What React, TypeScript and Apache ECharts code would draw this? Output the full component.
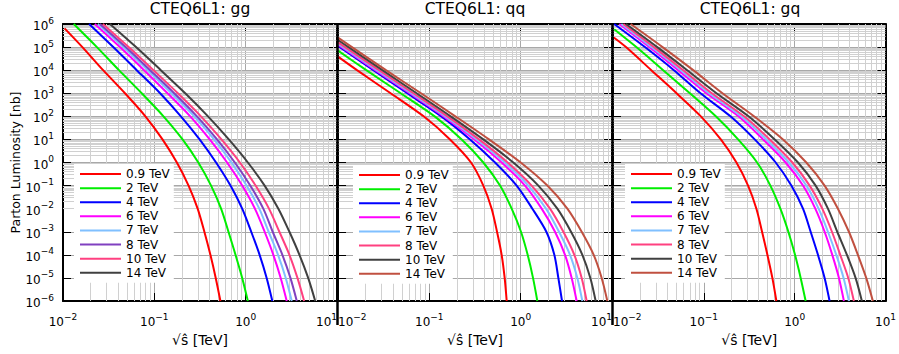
import React, { useEffect, useRef } from 'react';
import * as echarts from 'echarts';

// ---------- data ----------
const panelKeys = ['gg', 'qq', 'gq'];
const panelTitles = ['CTEQ6L1: gg', 'CTEQ6L1: qq', 'CTEQ6L1: gq'];
const energies = ['0.9 TeV', '2 TeV', '4 TeV', '6 TeV', '7 TeV', '8 TeV', '10 TeV', '14 TeV'];
const ggColors = ['#ff0000', '#00ee00', '#0000ff', '#ff00ff', '#80c0ff', '#8040c0', '#ff4080', '#404040'];
const qqColors = ['#ff0000', '#00ee00', '#0000ff', '#ff00ff', '#80c0ff', '#ff4080', '#404040', '#c05040'];
const gqColors = ['#ff0000', '#00ee00', '#0000ff', '#ff00ff', '#80c0ff', '#ff4080', '#404040', '#c05040'];

const xMin = 0.01;
const xMax = 10;
const yMin = 1e-6;
const yMax = 1e6;
const minorMultipliers = [2, 3, 4, 5, 6, 7, 8, 9];
const xDecades = [0.01, 0.1, 1];
const yDecades = [1e-6, 1e-5, 1e-4, 1e-3, 1e-2, 1e-1, 1, 1e1, 1e2, 1e3, 1e4, 1e5];

// gg luminosity curves: [sqrt(s-hat) TeV, luminosity nb]
const gg09 = [[0.0104, 6.5e5], [0.0163, 1e5], [0.0275, 1e4], [0.0477, 1e3], [0.0798, 1e2], [0.1228, 1e1], [0.1765, 1], [0.237, 1e-1], [0.298, 1e-2], [0.353, 1e-3], [0.411, 1e-4], [0.47, 1e-5], [0.529, 1e-6]];
const gg2 = [[0.0131, 1e6], [0.0235, 1e5], [0.041, 1e4], [0.0727, 1e3], [0.1259, 1e2], [0.2037, 1e1], [0.303, 1], [0.418, 1e-1], [0.538, 1e-2], [0.648, 1e-3], [0.774, 1e-4], [0.916, 1e-5], [1.057, 1e-6]];
const gg4 = [[0.0193, 1e6], [0.0355, 1e5], [0.0641, 1e4], [0.1157, 1e3], [0.1953, 1e2], [0.313, 1e1], [0.474, 1], [0.682, 1e-1], [0.916, 1e-2], [1.15, 1e-3], [1.421, 1e-4], [1.697, 1e-5], [1.958, 1e-6]];
const gg6 = [[0.0223, 1e6], [0.042, 1e5], [0.0772, 1e4], [0.1394, 1e3], [0.247, 1e2], [0.404, 1e1], [0.626, 1], [0.916, 1e-1], [1.262, 1e-2], [1.613, 1e-3], [2.009, 1e-4], [2.418, 1e-5], [2.816, 1e-6]];
const gg7 = [[0.0241, 1e6], [0.0457, 1e5], [0.0847, 1e4], [0.1542, 1e3], [0.274, 1e2], [0.451, 1e1], [0.699, 1], [1.022, 1e-1], [1.409, 1e-2], [1.784, 1e-3], [2.261, 1e-4], [2.746, 1e-5], [3.196, 1e-6]];
const gg8 = [[0.0253, 1e6], [0.0485, 1e5], [0.0898, 1e4], [0.165, 1e3], [0.293, 1e2], [0.486, 1e1], [0.761, 1], [1.122, 1e-1], [1.559, 1e-2], [1.975, 1e-3], [2.523, 1e-4], [3.09, 1e-5], [3.628, 1e-6]];
const gg10 = [[0.0273, 1e6], [0.0523, 1e5], [0.0978, 1e4], [0.181, 1e3], [0.324, 1e2], [0.543, 1e1], [0.864, 1], [1.284, 1e-1], [1.8, 1e-2], [2.338, 1e-3], [3.012, 1e-4], [3.689, 1e-5], [4.369, 1e-6]];
const gg14 = [[0.0326, 1e6], [0.063, 1e5], [0.1177, 1e4], [0.218, 1e3], [0.387, 1e2], [0.654, 1e1], [1.057, 1], [1.613, 1e-1], [2.28, 1e-2], [3.012, 1e-3], [3.881, 1e-4], [4.834, 1e-5], [5.772, 1e-6]];

// qq luminosity curves
const qq09 = [[0.01, 3.85e4], [0.01614, 1e4], [0.0377, 1e3], [0.0867, 1e2], [0.1684, 1e1], [0.286, 1], [0.39, 1e-1], [0.481, 1e-2], [0.551, 1e-3], [0.619, 1e-4], [0.668, 1e-5], [0.703, 1e-6]];
const qq2 = [[0.01, 7.0e4], [0.0204, 1e4], [0.0486, 1e3], [0.1144, 1e2], [0.226, 1e1], [0.39, 1], [0.594, 1e-1], [0.797, 1e-2], [1.008, 1e-3], [1.193, 1e-4], [1.365, 1e-5], [1.522, 1e-6]];
const qq4 = [[0.01, 1.11e5], [0.0244, 1e4], [0.0574, 1e3], [0.1353, 1e2], [0.279, 1e1], [0.524, 1], [0.904, 1e-1], [1.342, 1e-2], [1.91, 1e-3], [2.336, 1e-4], [2.585, 1e-5], [2.836, 1e-6]];
const qq6 = [[0.01, 1.27e5], [0.0256, 1e4], [0.0609, 1e3], [0.1435, 1e2], [0.311, 1e1], [0.619, 1], [1.115, 1e-1], [1.698, 1e-2], [2.376, 1e-3], [3.058, 1e-4], [3.617, 1e-5], [4.104, 1e-6]];
const qq7 = [[0.01, 1.41e5], [0.0267, 1e4], [0.0635, 1e3], [0.1497, 1e2], [0.33, 1e1], [0.674, 1], [1.213, 1e-1], [1.894, 1e-2], [2.628, 1e-3], [3.468, 1e-4], [4.173, 1e-5], [4.734, 1e-6]];
const qq8 = [[0.01, 1.61e5], [0.0281, 1e4], [0.0668, 1e3], [0.1574, 1e2], [0.35, 1e1], [0.72, 1], [1.319, 1e-1], [2.095, 1e-2], [2.933, 1e-3], [3.869, 1e-4], [4.655, 1e-5], [5.28, 1e-6]];
const qq10 = [[0.01, 2.03e5], [0.0306, 1e4], [0.0727, 1e3], [0.1712, 1e2], [0.39, 1e1], [0.831, 1], [1.561, 1e-1], [2.52, 1e-2], [3.557, 1e-3], [4.734, 1e-4], [5.792, 1e-5], [6.624, 1e-6]];
const qq14 = [[0.01, 2.56e5], [0.0335, 1e4], [0.0811, 1e3], [0.1926, 1e2], [0.45, 1e1], [1.0, 1], [1.959, 1e-1], [3.243, 1e-2], [4.655, 1e-3], [6.301, 1e-4], [7.706, 1e-5], [8.89, 1e-6]];

// gq luminosity curves
const gq09 = [[0.0102, 2.6e5], [0.01389, 1e5], [0.0264, 1e4], [0.0501, 1e3], [0.0927, 1e2], [0.1538, 1e1], [0.2286, 1], [0.307, 1e-1], [0.379, 1e-2], [0.4375, 1e-3], [0.501, 1e-4], [0.568, 1e-5], [0.629, 1e-6]];
const gq2 = [[0.0103, 5.9e5], [0.01805, 1e5], [0.0357, 1e4], [0.0702, 1e3], [0.1355, 1e2], [0.2384, 1e1], [0.386, 1], [0.54, 1e-1], [0.696, 1e-2], [0.852, 1e-3], [1.009, 1e-4], [1.164, 1e-5], [1.321, 1e-6]];
const gq4 = [[0.0103, 1e6], [0.02247, 1e5], [0.0468, 1e4], [0.0919, 1e3], [0.1963, 1e2], [0.363, 1e1], [0.618, 1], [0.919, 1e-1], [1.235, 1e-2], [1.499, 1e-3], [1.805, 1e-4], [2.136, 1e-5], [2.424, 1e-6]];
const gq6 = [[0.01174, 1e6], [0.02508, 1e5], [0.0522, 1e4], [0.107, 1e3], [0.2404, 1e2], [0.449, 1e1], [0.796, 1], [1.235, 1e-1], [1.687, 1e-2], [2.136, 1e-3], [2.594, 1e-4], [3.071, 1e-5], [3.484, 1e-6]];
const gq7 = [[0.01235, 1e6], [0.0266, 1e5], [0.0559, 1e4], [0.1144, 1e3], [0.2594, 1e2], [0.488, 1e1], [0.866, 1], [1.344, 1e-1], [1.835, 1e-2], [2.324, 1e-3], [2.871, 1e-4], [3.455, 1e-5], [3.955, 1e-6]];
const gq8 = [[0.01299, 1e6], [0.0282, 1e5], [0.0593, 1e4], [0.1224, 1e3], [0.2774, 1e2], [0.531, 1e1], [0.943, 1], [1.462, 1e-1], [2.014, 1e-2], [2.573, 1e-3], [3.175, 1e-4], [3.888, 1e-5], [4.487, 1e-6]];
const gq10 = [[0.01389, 1e6], [0.0307, 1e5], [0.0656, 1e4], [0.1378, 1e3], [0.31, 1e2], [0.603, 1e1], [1.088, 1], [1.701, 1e-1], [2.324, 1e-2], [2.944, 1e-3], [3.76, 1e-4], [4.681, 1e-5], [5.495, 1e-6]];
const gq14 = [[0.01564, 1e6], [0.0351, 1e5], [0.0764, 1e4], [0.1604, 1e3], [0.357, 1e2], [0.744, 1e1], [1.344, 1], [2.136, 1e-1], [2.994, 1e-2], [3.955, 1e-3], [4.966, 1e-4], [6.132, 1e-5], [7.258, 1e-6]];

const ggCurves = [gg09, gg2, gg4, gg6, gg7, gg8, gg10, gg14];
const qqCurves = [qq09, qq2, qq4, qq6, qq7, qq8, qq10, qq14];
const gqCurves = [gq09, gq2, gq4, gq6, gq7, gq8, gq10, gq14];

// ---------- layout ----------
const FONT = 'DejaVu Sans';
const gridLefts = [63, 338, 613];
const gridWidth = 274;
const gridTop = 24;
const gridHeight = 277;
const legendPos = [[74, 164], [353, 165], [625, 164]];

const powLabel = (v: number) => {
  const e = Math.round(Math.log10(v));
  const es = e < 0 ? '\u2212' + String(-e) : String(e);
  return `{b|10}{s|${es}}`;
};
const richStyle = {
  b: { fontSize: 12, fontFamily: FONT, color: '#000', lineHeight: 16, verticalAlign: 'bottom' },
  s: { fontSize: 9, fontFamily: FONT, color: '#000', lineHeight: 8, verticalAlign: 'top' },
};

function buildOption() {
  const panels = [
    { key: panelKeys[0], curves: ggCurves, colors: ggColors },
    { key: panelKeys[1], curves: qqCurves, colors: qqColors },
    { key: panelKeys[2], curves: gqCurves, colors: gqColors },
  ];
  const minorX = xDecades.flatMap((d) => minorMultipliers.map((m) => ({ xAxis: m * d })));
  const minorY = yDecades.flatMap((d) => minorMultipliers.map((m) => ({ yAxis: m * d })));

  const grid: any[] = [];
  const xAxis: any[] = [];
  const yAxis: any[] = [];
  const series: any[] = [];
  const legend: any[] = [];
  const title: any[] = [];

  panels.forEach((p, i) => {
    grid.push({ left: gridLefts[i], top: gridTop, width: gridWidth, height: gridHeight, containLabel: false });
    title.push({
      text: panelTitles[i],
      left: gridLefts[i] + gridWidth / 2,
      top: 1,
      textAlign: 'center',
      padding: 0,
      textStyle: { fontSize: 15.5, fontWeight: 'normal', color: '#000', fontFamily: FONT },
    });
    const axisLine = { show: true, onZero: false, lineStyle: { color: '#000', width: 2 } };
    const axisTick = { show: true, inside: true, length: 8, lineStyle: { color: '#000', width: 1 } };
    xAxis.push({
      type: 'log', logBase: 10, gridIndex: i, position: 'bottom', min: xMin, max: xMax, interval: 1, splitNumber: 3,
      axisLine, axisTick,
      axisLabel: {
        show: true, margin: 11, formatter: powLabel, rich: richStyle,
        alignMinLabel: i === 0 ? 'center' : 'left',
        alignMaxLabel: i === 2 ? 'center' : 'right',
        showMinLabel: true, showMaxLabel: true,
      },
      splitLine: { show: true, lineStyle: { color: '#a8a8a8', width: 1 } },
      name: '\u221A\u015D [TeV]', nameLocation: 'middle', nameGap: 28,
      nameTextStyle: { fontSize: 14, fontFamily: FONT, color: '#000' },
    });
    xAxis.push({
      type: 'log', logBase: 10, gridIndex: i, position: 'top', min: xMin, max: xMax, interval: 1, splitNumber: 3,
      axisLine, axisTick, axisLabel: { show: false }, splitLine: { show: false },
    });
    yAxis.push({
      type: 'log', logBase: 10, gridIndex: i, position: 'left', min: yMin, max: yMax, interval: 1, splitNumber: 12,
      axisLine, axisTick,
      axisLabel: { show: i === 0, margin: 9, formatter: powLabel, rich: richStyle, showMinLabel: true, showMaxLabel: true },
      splitLine: { show: true, lineStyle: { color: '#a8a8a8', width: 1 } },
      name: i === 0 ? 'Parton Luminosity [nb]' : '', nameLocation: 'middle', nameGap: 41,
      nameTextStyle: { fontSize: 12.5, fontFamily: FONT, color: '#000' },
    });
    yAxis.push({
      type: 'log', logBase: 10, gridIndex: i, position: 'right', min: yMin, max: yMax, interval: 1, splitNumber: 12,
      axisLine, axisTick, axisLabel: { show: false }, splitLine: { show: false },
    });

    const names = energies.map((e) => `${p.key}|${e}`);
    p.curves.forEach((curve, j) => {
      const s: any = {
        type: 'line',
        name: names[j],
        xAxisIndex: i * 2,
        yAxisIndex: i * 2,
        data: curve,
        showSymbol: false,
        symbol: 'none',
        smooth: 0.3,
        clip: true,
        z: 3,
        lineStyle: { width: 2, color: p.colors[j] },
        itemStyle: { color: p.colors[j] },
        emphasis: { disabled: true },
      };
      if (j === 0) {
        s.markLine = {
          silent: true,
          symbol: ['none', 'none'],
          label: { show: false },
          lineStyle: { type: 'solid', color: '#d0d0d0', width: 1 },
          emphasis: { disabled: true },
          z: 1,
          animation: false,
          data: [...minorX, ...minorY],
        };
      }
      series.push(s);
    });

    legend.push({
      orient: 'vertical',
      left: legendPos[i][0],
      top: legendPos[i][1],
      data: names.map((n) => ({ name: n, icon: 'rect' })),
      formatter: (n: string) => n.split('|')[1],
      itemWidth: 41,
      itemHeight: 2,
      itemGap: 0,
      padding: [3, 4, 3, 6],
      backgroundColor: '#ffffff',
      borderWidth: 0,
      selectedMode: false,
      textStyle: { fontSize: 12, fontFamily: FONT, color: '#000', lineHeight: 14.1, height: 14.1 },
    });
  });

  return {
    animation: false,
    backgroundColor: '#ffffff',
    textStyle: { fontFamily: FONT },
    title,
    grid,
    xAxis,
    yAxis,
    legend,
    series,
    graphic: [
      { type: 'line', z: 100, shape: { x1: 337.5, y1: gridTop, x2: 337.5, y2: 325 }, style: { stroke: '#000', lineWidth: 2.5 } },
      { type: 'line', z: 100, shape: { x1: 612.5, y1: gridTop, x2: 612.5, y2: 325 }, style: { stroke: '#000', lineWidth: 2.5 } },
    ],
  };
}

export default function App() {
  const ref = useRef<HTMLDivElement>(null);
  useEffect(() => {
    if (!ref.current) return;
    const chart = echarts.init(ref.current, undefined, { renderer: 'svg' });
    chart.setOption(buildOption() as any);
    return () => chart.dispose();
  }, []);
  return (
    <div
      ref={ref}
      style={{ position: 'fixed', left: 0, top: 0, width: 899, height: 354, background: '#fff' }}
    />
  );
}
